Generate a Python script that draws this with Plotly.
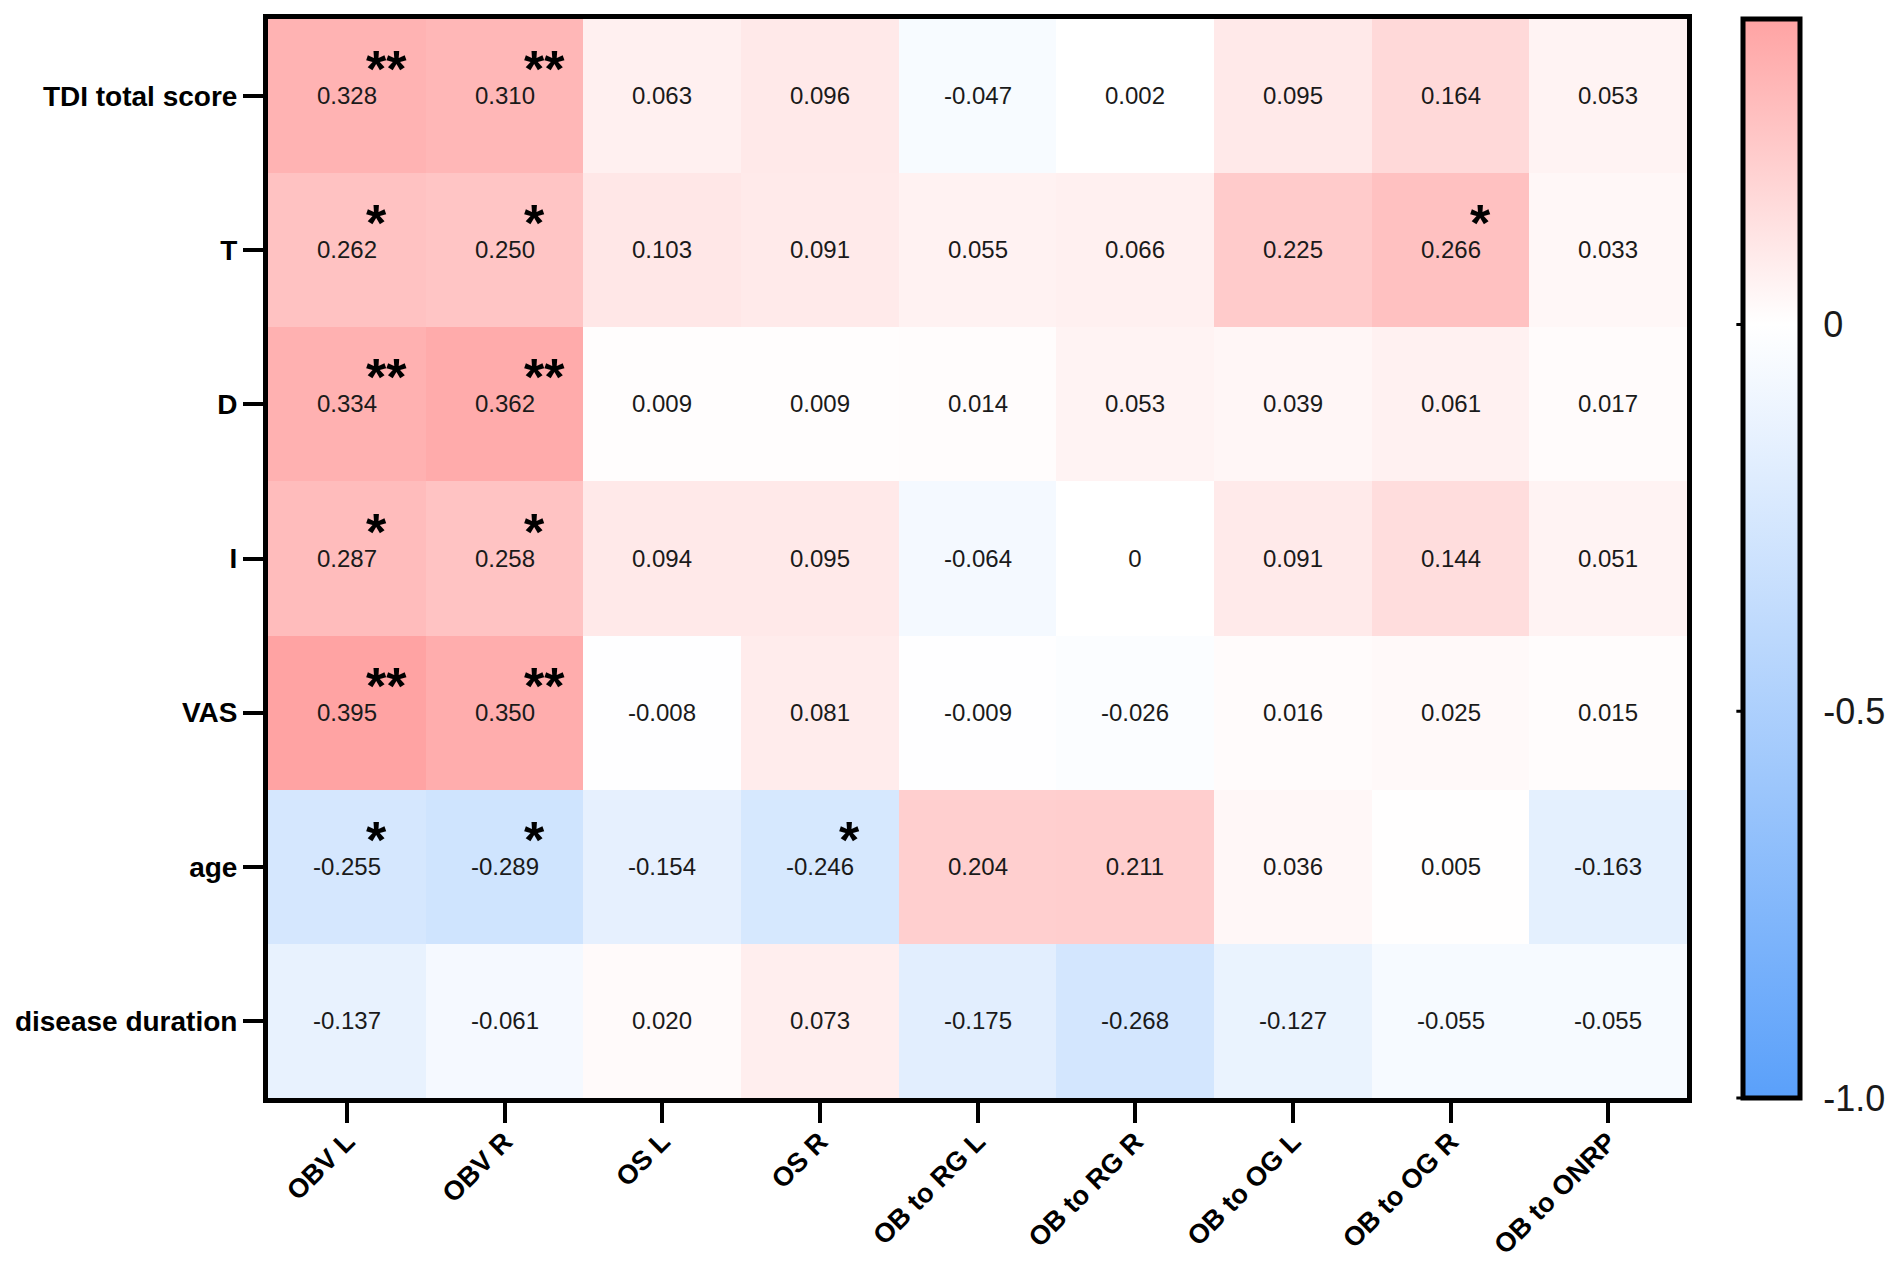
import plotly.graph_objects as go

# correlation heatmap: clinical scores vs olfactory structure measures
columns = ["OBV L", "OBV R", "OS L", "OS R", "OB to RG L", "OB to RG R",
           "OB to OG L", "OB to OG R", "OB to ONRP"]
rows = ["TDI total score", "T", "D", "I", "VAS", "age", "disease duration"]

tdi_total = [0.328, 0.310, 0.063, 0.096, -0.047, 0.002, 0.095, 0.164, 0.053]
t_score = [0.262, 0.250, 0.103, 0.091, 0.055, 0.066, 0.225, 0.266, 0.033]
d_score = [0.334, 0.362, 0.009, 0.009, 0.014, 0.053, 0.039, 0.061, 0.017]
i_score = [0.287, 0.258, 0.094, 0.095, -0.064, 0, 0.091, 0.144, 0.051]
vas = [0.395, 0.350, -0.008, 0.081, -0.009, -0.026, 0.016, 0.025, 0.015]
age = [-0.255, -0.289, -0.154, -0.246, 0.204, 0.211, 0.036, 0.005, -0.163]
duration = [-0.137, -0.061, 0.020, 0.073, -0.175, -0.268, -0.127, -0.055, -0.055]

# significance marks (row, column, stars)
signif = [
    ("TDI total score", "OBV L", "**"), ("TDI total score", "OBV R", "**"),
    ("T", "OBV L", "*"), ("T", "OBV R", "*"), ("T", "OB to OG R", "*"),
    ("D", "OBV L", "**"), ("D", "OBV R", "**"),
    ("I", "OBV L", "*"), ("I", "OBV R", "*"),
    ("VAS", "OBV L", "**"), ("VAS", "OBV R", "**"),
    ("age", "OBV L", "*"), ("age", "OBV R", "*"), ("age", "OS R", "*"),
]

cbar_ticks = [0, -0.5, -1.0]
cbar_labels = ["0", "-0.5", "-1.0"]

z = [tdi_total, t_score, d_score, i_score, vas, age, duration]
zmin, zmax = -1.0, 0.395


def fmt(v):
    return "0" if v == 0 else f"{v:.3f}"


text = [[fmt(v) for v in r] for r in z]
mid = (0 - zmin) / (zmax - zmin)
FONT = "Liberation Sans, Arial, sans-serif"

W, H = 1902, 1264
ML, MR, MT, MB = 260, 203, 11, 174
cb_x = (1746 - ML) / (W - ML - MR)
cb_thick = 57

fig = go.Figure()
fig.add_trace(
    go.Heatmap(
        z=z,
        x=columns,
        y=rows,
        text=text,
        texttemplate="%{text}",
        textfont=dict(family=FONT, size=24, color="#1a1a1a"),
        zmin=zmin,
        zmax=zmax,
        colorscale=[[0, "rgb(90,160,250)"], [mid, "rgb(255,255,255)"], [1, "rgb(255,163,163)"]],
        colorbar=dict(
            x=cb_x,
            xanchor="left",
            y=0.5,
            yanchor="middle",
            len=1.0,
            ypad=0,
            thickness=cb_thick,
            outlinewidth=5,
            outlinecolor="black",
            tickvals=cbar_ticks,
            ticktext=cbar_labels,
            ticks="outside",
            ticklen=14,
            tickcolor="rgba(0,0,0,0)",
            tickfont=dict(family=FONT, size=36, color="#1a1a1a"),
        ),
    )
)

for r, c, s in signif:
    fig.add_annotation(
        x=c, y=r, text="<b>" + s + "</b>", showarrow=False,
        xanchor="left", yanchor="middle",
        xshift=17, yshift=27,
        font=dict(family=FONT, size=52, color="black"),
    )

# short inside ticks on both edges of the colour bar
for v in cbar_ticks:
    yp = (v - zmin) / (zmax - zmin)
    for a, b in [(3, 15), (cb_thick - 12, cb_thick)]:
        fig.add_shape(type="line", xref="paper", yref="paper",
                      xsizemode="pixel", xanchor=cb_x,
                      x0=a, x1=b, y0=yp, y1=yp,
                      line=dict(color="black", width=3))

fig.update_layout(
    width=W,
    height=H,
    margin=dict(l=ML, r=MR, t=MT, b=MB),
    paper_bgcolor="white",
    plot_bgcolor="white",
    font=dict(family=FONT, color="black"),
)

fig.update_xaxes(
    showline=True, mirror=True, linewidth=5, linecolor="black",
    ticks="outside", ticklen=20, tickwidth=4, tickcolor="black",
    tickangle=-45, tickfont=dict(family=FONT, size=27, color="black"),
    tickprefix="<b>", ticksuffix="</b>", ticklabelstandoff=-8,
    automargin=False, showgrid=False, zeroline=False,
)
fig.update_yaxes(
    autorange="reversed",
    showline=True, mirror=True, linewidth=5, linecolor="black",
    ticks="outside", ticklen=20, tickwidth=4, tickcolor="black",
    tickfont=dict(family=FONT, size=28, color="black"),
    tickprefix="<b>", ticksuffix="</b>",
    automargin=False, showgrid=False, zeroline=False,
)

fig.write_html("out.html")
